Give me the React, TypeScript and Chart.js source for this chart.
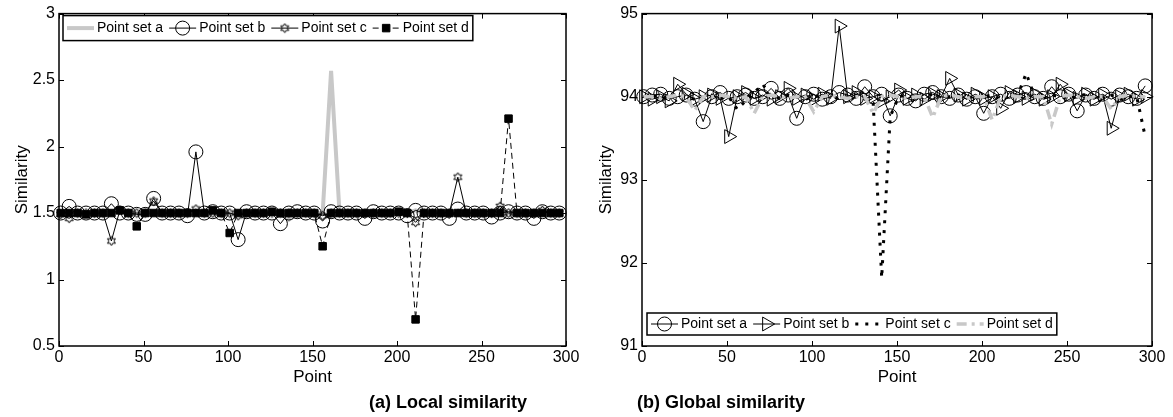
import React, { useEffect, useRef } from 'react';
import { Chart, registerables } from 'chart.js';
import { drawPoint } from 'chart.js/helpers';

Chart.register(...registerables);

const FONT = '"Liberation Sans", Arial, Helvetica, sans-serif';

// ---------- data ----------
const pointIndex = [
  1, 6, 11, 16, 21, 26, 31, 36, 41, 46, 51, 56, 61, 66, 71, 76, 81, 86, 91, 96,
  101, 106, 111, 116, 121, 126, 131, 136, 141, 146, 151, 156, 161, 166, 171, 176, 181, 186, 191, 196,
  201, 206, 211, 216, 221, 226, 231, 236, 241, 246, 251, 256, 261, 266, 271, 276, 281, 286, 291, 296,
];

const seriesLabels = ['Point set a', 'Point set b', 'Point set c', 'Point set d'];
const xTickValues = [0, 50, 100, 150, 200, 250, 300];
const localYTicks = [0.5, 1, 1.5, 2, 2.5, 3];
const globalYTicks = [91, 92, 93, 94, 95];
const captions = ['(a) Local similarity', '(b) Global similarity'];
const xTitle = 'Point';
const yTitle = 'Similarity';

const localA = [
  1.50, 1.51, 1.50, 1.50, 1.50, 1.50, 1.50, 1.51, 1.50, 1.50,
  1.50, 1.50, 1.50, 1.50, 1.50, 1.50, 1.50, 1.50, 1.50, 1.50,
  1.50, 1.50, 1.50, 1.50, 1.50, 1.50, 1.50, 1.45, 1.50, 1.50,
  1.50, 1.50, 2.57, 1.50, 1.50, 1.50, 1.50, 1.50, 1.50, 1.50,
  1.50, 1.50, 1.52, 1.50, 1.50, 1.50, 1.50, 1.50, 1.50, 1.50,
  1.50, 1.50, 1.50, 1.50, 1.50, 1.50, 1.50, 1.50, 1.50, 1.50,
];
const localB = [
  1.50, 1.55, 1.50, 1.50, 1.50, 1.50, 1.57, 1.50, 1.50, 1.49,
  1.49, 1.61, 1.50, 1.50, 1.50, 1.48, 1.96, 1.50, 1.51, 1.50,
  1.50, 1.30, 1.51, 1.50, 1.50, 1.50, 1.42, 1.50, 1.51, 1.50,
  1.50, 1.44, 1.51, 1.50, 1.50, 1.50, 1.46, 1.51, 1.50, 1.50,
  1.50, 1.48, 1.52, 1.50, 1.50, 1.50, 1.46, 1.53, 1.50, 1.50,
  1.50, 1.47, 1.50, 1.51, 1.50, 1.50, 1.46, 1.51, 1.50, 1.50,
];
const localC = [
  1.49, 1.46, 1.50, 1.50, 1.50, 1.50, 1.29, 1.52, 1.50, 1.50,
  1.50, 1.59, 1.50, 1.50, 1.50, 1.50, 1.53, 1.50, 1.50, 1.50,
  1.50, 1.48, 1.50, 1.50, 1.50, 1.50, 1.50, 1.50, 1.50, 1.50,
  1.50, 1.48, 1.50, 1.50, 1.50, 1.50, 1.50, 1.50, 1.50, 1.50,
  1.50, 1.50, 1.43, 1.50, 1.50, 1.50, 1.50, 1.77, 1.50, 1.50,
  1.50, 1.50, 1.55, 1.50, 1.50, 1.50, 1.50, 1.52, 1.50, 1.50,
];
const localD = [
  1.50, 1.50, 1.50, 1.49, 1.50, 1.50, 1.50, 1.52, 1.50, 1.40,
  1.50, 1.50, 1.50, 1.50, 1.50, 1.50, 1.50, 1.50, 1.52, 1.50,
  1.35, 1.50, 1.50, 1.50, 1.50, 1.51, 1.50, 1.50, 1.50, 1.50,
  1.50, 1.25, 1.50, 1.50, 1.50, 1.50, 1.50, 1.50, 1.50, 1.50,
  1.51, 1.50, 0.70, 1.50, 1.50, 1.50, 1.50, 1.50, 1.50, 1.50,
  1.50, 1.50, 1.50, 2.21, 1.50, 1.50, 1.50, 1.50, 1.50, 1.50,
];

const globalA = [
  94.00, 94.02, 94.03, 93.98, 94.00, 94.02, 93.97, 93.70, 94.00, 94.05,
  93.98, 94.00, 94.02, 93.98, 94.00, 94.10, 93.98, 94.02, 93.74, 94.00,
  94.03, 93.97, 94.00, 94.05, 94.02, 93.98, 94.12, 94.00, 94.03, 93.77,
  94.02, 93.98, 93.95, 94.03, 94.05, 94.00, 93.98, 94.02, 93.97, 94.00,
  93.80, 94.00, 94.03, 93.98, 94.02, 94.05, 94.00, 93.98, 94.12, 94.00,
  94.03, 93.83, 94.02, 93.98, 94.03, 93.97, 94.02, 94.00, 93.98, 94.13,
];
const globalB = [
  94.00, 93.97, 94.00, 93.95, 94.15, 94.03, 93.97, 94.00, 94.02, 93.98,
  93.52, 94.00, 94.05, 93.98, 94.02, 93.97, 94.00, 94.10, 93.98, 94.02,
  93.97, 94.03, 93.98, 94.85, 94.00, 94.05, 93.98, 94.00, 93.95, 94.00,
  94.08, 93.98, 94.02, 93.97, 94.03, 94.00, 94.22, 94.02, 93.97, 94.03,
  93.98, 94.00, 93.86, 94.05, 94.00, 93.98, 94.03, 93.97, 94.00, 94.15,
  94.02, 93.98, 94.03, 93.97, 94.02, 93.62, 94.00, 94.03, 93.97, 94.00,
];
const globalC = [
  94.00, 94.02, 93.98, 94.00, 94.03, 94.00, 93.97, 94.00, 94.02, 93.98,
  94.00, 93.85, 93.95, 94.05, 94.15, 94.00, 93.98, 94.02, 94.00, 93.97,
  94.00, 94.02, 94.00, 93.98, 94.00, 94.02, 93.97, 93.92, 91.82, 93.76,
  94.00, 94.02, 93.98, 94.00, 94.03, 93.97, 94.00, 94.02, 94.00, 93.98,
  94.00, 94.02, 93.97, 94.00, 94.02, 94.28, 94.00, 93.98, 94.02, 94.00,
  93.97, 94.00, 94.03, 93.98, 94.00, 94.02, 93.97, 94.00, 94.00, 93.52,
];
const globalD = [
  94.00, 94.00, 93.98, 94.00, 94.02, 94.00, 93.83, 94.00, 94.00, 94.02,
  94.00, 93.98, 94.00, 93.80, 94.00, 94.02, 94.00, 93.98, 94.00, 94.00,
  93.82, 94.00, 94.02, 94.00, 93.98, 94.00, 94.00, 93.80, 94.00, 94.02,
  94.00, 93.98, 94.00, 94.00, 93.75, 94.00, 94.02, 94.00, 93.98, 94.00,
  94.00, 93.72, 94.00, 94.02, 94.00, 93.98, 94.00, 94.00, 93.67, 94.00,
  94.02, 94.00, 93.98, 94.00, 94.00, 93.85, 94.00, 94.02, 94.00, 94.00,
];

// ---------- helpers ----------
const toXY = (ys: number[]) => ys.map((y, i) => ({ x: pointIndex[i], y }));

function makeHexagram(): HTMLCanvasElement {
  const c = document.createElement('canvas');
  c.width = 11;
  c.height = 11;
  const ctx = c.getContext('2d')!;
  const cx = 5.5, cy = 5.5, ro = 4.6, ri = 2.6;
  ctx.beginPath();
  for (let k = 0; k < 12; k++) {
    const r = k % 2 === 0 ? ro : ri;
    const a = -Math.PI / 2 + (k * Math.PI) / 6;
    const px = cx + r * Math.cos(a);
    const py = cy + r * Math.sin(a);
    if (k === 0) ctx.moveTo(px, py);
    else ctx.lineTo(px, py);
  }
  ctx.closePath();
  ctx.strokeStyle = '#000';
  ctx.lineWidth = 1;
  ctx.stroke();
  return c;
}

const frameTicks = {
  id: 'frameTicks',
  beforeDatasetsDraw(chart: any) {
    const { ctx, chartArea: a, scales } = chart;
    ctx.save();
    ctx.setLineDash([]);
    ctx.strokeStyle = '#000';
    ctx.lineWidth = 1.5;
    ctx.strokeRect(a.left, a.top, a.right - a.left, a.bottom - a.top);
    ctx.lineWidth = 1;
    const L = 5;
    const line = (x1: number, y1: number, x2: number, y2: number) => {
      ctx.beginPath();
      ctx.moveTo(x1, y1);
      ctx.lineTo(x2, y2);
      ctx.stroke();
    };
    scales.x.ticks.forEach((t: any) => {
      const px = Math.round(scales.x.getPixelForValue(t.value)) + 0.5;
      line(px, a.bottom, px, a.bottom - L);
      line(px, a.top, px, a.top + L);
    });
    scales.y.ticks.forEach((t: any) => {
      const py = Math.round(scales.y.getPixelForValue(t.value)) + 0.5;
      line(a.left, py, a.left + L, py);
      line(a.right, py, a.right - L, py);
    });
    ctx.restore();
  },
};

const boxLegend = {
  id: 'boxLegend',
  afterDatasetsDraw(chart: any, _args: any, opts: any) {
    const { ctx, chartArea } = chart;
    const datasets = chart.data.datasets;
    ctx.save();
    ctx.font = `${opts.fontSize}px ${FONT}`;
    const widths = datasets.map((ds: any) => ctx.measureText(ds.label).width);
    const pad = 4, gapA = 3, gapB = 6, sw = opts.sampleW;
    let total = pad * 2 - gapB;
    widths.forEach((w: number) => { total += sw + gapA + w + gapB; });
    const x0 = chartArea.left + opts.offsetX;
    const y0 = opts.anchor === 'top'
      ? chartArea.top + opts.offsetY
      : chartArea.bottom - opts.offsetY - opts.height;
    ctx.fillStyle = '#fff';
    ctx.fillRect(x0, y0, total, opts.height);
    ctx.setLineDash([]);
    ctx.strokeStyle = '#000';
    ctx.lineWidth = 1.5;
    ctx.strokeRect(x0, y0, total, opts.height);
    const cy = y0 + opts.height / 2;
    let x = x0 + pad;
    datasets.forEach((ds: any, i: number) => {
      ctx.save();
      ctx.setLineDash(ds.borderDash || []);
      ctx.lineCap = ds.borderCapStyle || 'butt';
      ctx.lineWidth = ds.borderWidth;
      ctx.strokeStyle = ds.borderColor;
      ctx.beginPath();
      ctx.moveTo(x, cy);
      ctx.lineTo(x + sw, cy);
      ctx.stroke();
      ctx.restore();
      if (ds.pointRadius > 0) {
        ctx.save();
        ctx.setLineDash([]);
        ctx.fillStyle = ds.pointBackgroundColor;
        ctx.strokeStyle = ds.pointBorderColor;
        ctx.lineWidth = ds.pointBorderWidth;
        drawPoint(ctx, {
          pointStyle: ds.pointStyle,
          rotation: ds.pointRotation || 0,
          radius: ds.pointRadius,
          borderWidth: ds.pointBorderWidth,
        } as any, x + sw / 2, cy);
        ctx.restore();
      }
      ctx.fillStyle = '#000';
      ctx.textBaseline = 'middle';
      ctx.textAlign = 'left';
      ctx.fillText(ds.label, x + sw + gapA, cy + 0.5);
      x += sw + gapA + widths[i] + gapB;
    });
    ctx.restore();
  },
};

function makeOptions(cfg: {
  yMin: number; yMax: number; yTicks: number[]; yWidth: number; padRight: number;
  titlePad: number; legend: any;
}) {
  return {
    responsive: false,
    animation: false as const,
    devicePixelRatio: 1,
    events: [] as any[],
    layout: { padding: { top: 13, right: cfg.padRight, left: 0, bottom: 0 } },
    plugins: {
      legend: { display: false },
      tooltip: { enabled: false },
      boxLegend: cfg.legend,
    },
    scales: {
      x: {
        type: 'linear' as const,
        min: 0,
        max: 300,
        afterBuildTicks: (s: any) => { s.ticks = xTickValues.map((v) => ({ value: v })); },
        afterFit: (s: any) => { s.height = 46; },
        grid: { display: false, drawTicks: false },
        border: { display: false },
        ticks: { color: '#000', font: { size: 16, family: FONT }, padding: 2, maxRotation: 0, autoSkip: false,
          callback: (v: any) => String(v) },
        title: { display: true, text: xTitle, color: '#000', font: { size: 17, family: FONT }, padding: { top: 0, bottom: 4 } },
      },
      y: {
        type: 'linear' as const,
        min: cfg.yMin,
        max: cfg.yMax,
        afterBuildTicks: (s: any) => { s.ticks = cfg.yTicks.map((v) => ({ value: v })); },
        afterFit: (s: any) => { s.width = cfg.yWidth; },
        grid: { display: false, drawTicks: false },
        border: { display: false },
        ticks: { color: '#000', font: { size: 16, family: FONT }, padding: 4, autoSkip: false,
          callback: (v: any) => String(v) },
        title: { display: true, text: yTitle, color: '#000', font: { size: 17, family: FONT }, padding: { top: cfg.titlePad, bottom: 0 } },
      },
    },
  };
}

export default function App() {
  const leftRef = useRef<HTMLCanvasElement>(null);
  const rightRef = useRef<HTMLCanvasElement>(null);

  useEffect(() => {
    const hexagram = makeHexagram();
    const base = { clip: false as any, tension: 0, pointHoverRadius: 0 };

    const left = new Chart(leftRef.current!, {
      type: 'line',
      data: {
        datasets: [
          { ...base, label: seriesLabels[0], data: toXY(localA), borderColor: '#c8c8c8', borderWidth: 4,
            pointRadius: 0, order: 4 },
          { ...base, label: seriesLabels[1], data: toXY(localB), borderColor: '#000', borderWidth: 1,
            pointStyle: 'circle', pointRadius: 7, pointBorderColor: '#000', pointBackgroundColor: 'rgba(0,0,0,0)',
            pointBorderWidth: 1, order: 3 },
          { ...base, label: seriesLabels[2], data: toXY(localC), borderColor: '#000', borderWidth: 1,
            pointStyle: hexagram, pointRadius: 4, pointBorderColor: '#000', pointBackgroundColor: 'rgba(0,0,0,0)',
            pointBorderWidth: 1, order: 2 },
          { ...base, label: seriesLabels[3], data: toXY(localD), borderColor: '#000', borderWidth: 1,
            borderDash: [6, 4], pointStyle: 'rect', pointRadius: 5.3, pointBorderColor: '#000',
            pointBackgroundColor: '#000', pointBorderWidth: 1, order: 1 },
        ] as any,
      },
      options: makeOptions({
        yMin: 0.5, yMax: 3, yTicks: localYTicks, yWidth: 59, padRight: 20, titlePad: 12,
        legend: { anchor: 'top', offsetX: 4, offsetY: 2, height: 25, sampleW: 27, fontSize: 14 },
      }) as any,
      plugins: [frameTicks, boxLegend],
    });

    const right = new Chart(rightRef.current!, {
      type: 'line',
      data: {
        datasets: [
          { ...base, label: seriesLabels[0], data: toXY(globalA), borderColor: '#000', borderWidth: 1,
            pointStyle: 'circle', pointRadius: 7, pointBorderColor: '#000', pointBackgroundColor: 'rgba(0,0,0,0)',
            pointBorderWidth: 1, order: 4 },
          { ...base, label: seriesLabels[1], data: toXY(globalB), borderColor: '#000', borderWidth: 1,
            pointStyle: 'triangle', pointRotation: 90, pointRadius: 8, pointBorderColor: '#000',
            pointBackgroundColor: 'rgba(0,0,0,0)', pointBorderWidth: 1, order: 3 },
          { ...base, label: seriesLabels[2], data: toXY(globalC), borderColor: '#000', borderWidth: 3,
            borderDash: [3, 7], borderCapStyle: 'butt', pointRadius: 0, order: 2 },
          { ...base, label: seriesLabels[3], data: toXY(globalD), borderColor: '#c8c8c8', borderWidth: 3.5,
            borderDash: [10, 5, 3, 5], borderCapStyle: 'butt', pointRadius: 0, order: 1 },
        ] as any,
      },
      options: makeOptions({
        yMin: 91, yMax: 95, yTicks: globalYTicks, yWidth: 56, padRight: 21, titlePad: 10,
        legend: { anchor: 'bottom', offsetX: 5, offsetY: 11, height: 22, sampleW: 27, fontSize: 14 },
      }) as any,
      plugins: [frameTicks, boxLegend],
    });

    return () => {
      left.destroy();
      right.destroy();
    };
  }, []);

  const captionStyle: React.CSSProperties = {
    position: 'absolute',
    top: 391,
    fontFamily: FONT,
    fontWeight: 'bold',
    fontSize: 18,
    lineHeight: '22px',
    whiteSpace: 'nowrap',
    color: '#000',
  };

  return (
    <div style={{ position: 'absolute', left: 0, top: 0, width: 1173, height: 417, background: '#fff', overflow: 'hidden' }}>
      <canvas ref={leftRef} width={586} height={392} style={{ position: 'absolute', left: 0, top: 0 }} />
      <canvas ref={rightRef} width={587} height={392} style={{ position: 'absolute', left: 586, top: 0 }} />
      <div style={{ ...captionStyle, left: 369 }}>{captions[0]}</div>
      <div style={{ ...captionStyle, left: 637 }}>{captions[1]}</div>
    </div>
  );
}
